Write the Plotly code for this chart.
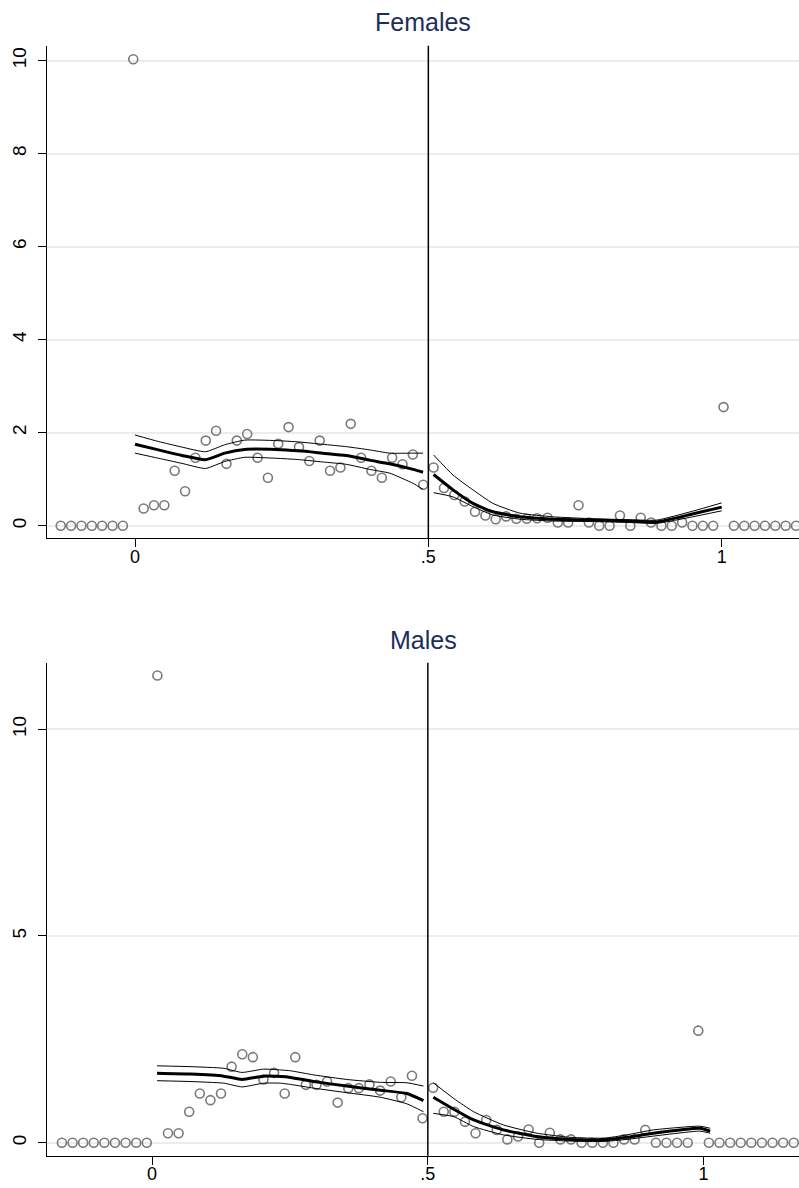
import plotly.graph_objects as go

# ---------------- Females: binned means ----------------
fem_x = [-0.1266, -0.1089, -0.0913, -0.0736, -0.0560, -0.0383, -0.0207,
         -0.0030, 0.0147, 0.0323, 0.0500, 0.0676, 0.0853, 0.1029, 0.1206,
         0.1382, 0.1559, 0.1735, 0.1912, 0.2089, 0.2265, 0.2442, 0.2618,
         0.2795, 0.2971, 0.3148, 0.3324, 0.3501, 0.3677, 0.3854, 0.4030,
         0.4207, 0.4383, 0.4560, 0.4736, 0.4913, 0.5089, 0.5266, 0.5442,
         0.5619, 0.5795, 0.5972, 0.6148, 0.6325, 0.6501, 0.6678, 0.6854,
         0.7031, 0.7207, 0.7384, 0.7560, 0.7737, 0.7913, 0.8090, 0.8266,
         0.8443, 0.8620, 0.8796, 0.8973, 0.9149, 0.9326, 0.9502, 0.9679,
         0.9855, 1.0032, 1.0208, 1.0385, 1.0561, 1.0738, 1.0914, 1.1091,
         1.1267]
fem_y = [0, 0, 0, 0, 0, 0, 0,
         10.03, 0.37, 0.44, 0.44, 1.18, 0.74, 1.46, 1.83,
         2.04, 1.33, 1.83, 1.97, 1.46, 1.03, 1.76, 2.12,
         1.69, 1.39, 1.83, 1.18, 1.25, 2.19, 1.46, 1.18,
         1.03, 1.46, 1.32, 1.53, 0.88, 1.25, 0.81, 0.66,
         0.52, 0.30, 0.22, 0.14, 0.20, 0.15, 0.15, 0.16,
         0.17, 0.07, 0.07, 0.44, 0.07, 0, 0, 0.22,
         0, 0.17, 0.07, 0, 0, 0.07, 0, 0,
         0, 2.55, 0, 0, 0, 0, 0, 0,
         0]

# Females: local fit with confidence band, left of cutoff
fem_lx = [0.0, 0.04, 0.08, 0.12, 0.153, 0.187, 0.24, 0.28, 0.32, 0.36, 0.40, 0.434, 0.474, 0.491]
fem_lfit = [1.75, 1.63, 1.51, 1.42, 1.56, 1.64, 1.64, 1.61, 1.56, 1.51, 1.41, 1.33, 1.21, 1.15]
fem_lhi = [1.95, 1.81, 1.69, 1.59, 1.74, 1.84, 1.83, 1.80, 1.75, 1.70, 1.63, 1.56, 1.56, 1.56]
fem_llo = [1.56, 1.45, 1.34, 1.23, 1.38, 1.47, 1.45, 1.42, 1.37, 1.32, 1.21, 1.13, 0.91, 0.78]

# Females: right of cutoff
fem_rx = [0.509, 0.542, 0.576, 0.61, 0.656, 0.713, 0.78, 0.84, 0.889, 0.95, 1.0]
fem_rfit = [1.10, 0.77, 0.48, 0.30, 0.19, 0.14, 0.12, 0.10, 0.08, 0.25, 0.40]
fem_rhi = [1.52, 1.09, 0.77, 0.48, 0.27, 0.19, 0.15, 0.13, 0.12, 0.31, 0.49]
fem_rlo = [0.71, 0.62, 0.41, 0.23, 0.14, 0.10, 0.09, 0.07, 0.05, 0.19, 0.32]

# ---------------- Males: binned means ----------------
mal_x = [-0.1635, -0.1442, -0.1250, -0.1058, -0.0865, -0.0673, -0.0481,
         -0.0288, -0.0096, 0.0096, 0.0288, 0.0481, 0.0673, 0.0865, 0.1058,
         0.1250, 0.1442, 0.1635, 0.1827, 0.2019, 0.2212, 0.2404, 0.2596,
         0.2788, 0.2981, 0.3173, 0.3365, 0.3558, 0.3750, 0.3942, 0.4135,
         0.4327, 0.4519, 0.4712, 0.4904, 0.5096, 0.5288, 0.5481, 0.5673,
         0.5865, 0.6058, 0.6250, 0.6442, 0.6635, 0.6827, 0.7019, 0.7212,
         0.7404, 0.7596, 0.7788, 0.7981, 0.8173, 0.8365, 0.8558, 0.8750,
         0.8942, 0.9135, 0.9327, 0.9519, 0.9712, 0.9904, 1.0096, 1.0288,
         1.0481, 1.0673, 1.0865, 1.1058, 1.1250, 1.1442, 1.1635]
mal_y = [0, 0, 0, 0, 0, 0, 0,
         0, 0, 11.30, 0.23, 0.23, 0.75, 1.19, 1.03,
         1.19, 1.84, 2.14, 2.07, 1.53, 1.69, 1.19, 2.07,
         1.40, 1.40, 1.48, 0.97, 1.32, 1.32, 1.41, 1.26,
         1.48, 1.10, 1.62, 0.59, 1.33, 0.75, 0.75, 0.51,
         0.23, 0.55, 0.31, 0.08, 0.15, 0.32, 0, 0.24,
         0.08, 0.08, 0, 0, 0, 0, 0.08, 0.08,
         0.31, 0, 0, 0, 0, 2.71, 0, 0,
         0, 0, 0, 0, 0, 0, 0]

# Males: local fit with confidence band, left of cutoff
mal_lx = [0.009, 0.069, 0.13, 0.163, 0.202, 0.233, 0.251, 0.293, 0.353, 0.414, 0.462, 0.492]
mal_lfit = [1.68, 1.66, 1.61, 1.53, 1.61, 1.60, 1.58, 1.48, 1.37, 1.27, 1.19, 1.02]
mal_lhi = [1.86, 1.84, 1.80, 1.70, 1.78, 1.76, 1.74, 1.64, 1.53, 1.46, 1.45, 1.37]
mal_llo = [1.50, 1.48, 1.44, 1.35, 1.44, 1.44, 1.41, 1.32, 1.21, 1.10, 0.94, 0.75]

# Males: right of cutoff
mal_rx = [0.51, 0.547, 0.583, 0.637, 0.698, 0.758, 0.819, 0.861, 0.909, 0.993, 1.012]
mal_rfit = [1.10, 0.81, 0.55, 0.31, 0.15, 0.08, 0.07, 0.13, 0.23, 0.35, 0.28]
mal_rhi = [1.45, 1.07, 0.75, 0.43, 0.23, 0.13, 0.11, 0.19, 0.31, 0.40, 0.35]
mal_rlo = [0.71, 0.63, 0.39, 0.19, 0.08, 0.04, 0.03, 0.08, 0.16, 0.28, 0.23]

cutoff = 0.5
x_tickvals = [0, 0.5, 1]
x_ticktext = ["0", ".5", "1"]
fem_yticks = [0, 2, 4, 6, 8, 10]
mal_yticks = [0, 5, 10]

W, H = 799, 1188
FONT = "Liberation Sans, Arial, Helvetica, sans-serif"
GRID = "#e6eef0"
MARKER_GRAY = "#7a7a7a"

fig = go.Figure()


def add_panel(xs, ys, segments, xa, ya):
    fig.add_trace(go.Scatter(
        x=xs, y=ys, mode="markers", xaxis=xa, yaxis=ya, showlegend=False,
        marker=dict(symbol="circle-open", size=9, color=MARKER_GRAY,
                    line=dict(width=1.6, color=MARKER_GRAY)),
    ))
    for sx, fit, hi, lo in segments:
        for vals, w in ((hi, 1.0), (lo, 1.0), (fit, 3.0)):
            fig.add_trace(go.Scatter(
                x=sx, y=vals, mode="lines", xaxis=xa, yaxis=ya, showlegend=False,
                line=dict(color="black", width=w, shape="spline", smoothing=0.5),
            ))


add_panel(fem_x, fem_y,
          [(fem_lx, fem_lfit, fem_lhi, fem_llo), (fem_rx, fem_rfit, fem_rhi, fem_rlo)],
          "x", "y")
add_panel(mal_x, mal_y,
          [(mal_lx, mal_lfit, mal_lhi, mal_llo), (mal_rx, mal_rfit, mal_rhi, mal_rlo)],
          "x2", "y2")

x_dom = [47.3 / W, 1.0]
top_dom = [(H - 538.3) / H, (H - 45.7) / H]
bot_dom = [(H - 1155.7) / H, (H - 662.7) / H]

common_x = dict(
    tickmode="array", tickvals=x_tickvals, ticktext=x_ticktext, automargin=False,
    showgrid=False, zeroline=False, showline=True, linecolor="black", linewidth=1.2,
    ticks="outside", ticklen=8, tickwidth=1.2, tickcolor="black", ticklabelstandoff=-6,
    tickfont=dict(family=FONT, size=18, color="black"),
)
common_y = dict(
    tickmode="array", showgrid=True, gridcolor=GRID, gridwidth=1.5, automargin=False,
    zeroline=False, showline=True, linecolor="black", linewidth=1.2,
    ticks="outside", ticklen=8, tickwidth=1.2, tickcolor="black", tickangle=-90,
    ticklabelstandoff=5,
    tickfont=dict(family=FONT, size=19, color="black"),
)

fig.update_layout(
    width=W, height=H,
    margin=dict(l=0, r=0, t=0, b=0, pad=0, autoexpand=False),
    paper_bgcolor="white", plot_bgcolor="white",
    xaxis=dict(domain=x_dom, range=[-0.1495, 1.1318], anchor="y", **common_x),
    yaxis=dict(domain=top_dom, range=[-0.271, 10.32], anchor="x",
               tickvals=fem_yticks, **common_y),
    xaxis2=dict(domain=x_dom, range=[-0.190, 1.173], anchor="y2", **common_x),
    yaxis2=dict(domain=bot_dom, range=[-0.314, 11.61], anchor="x2",
                tickvals=mal_yticks, **common_y),
    shapes=[
        dict(type="line", xref="x", yref="y domain", x0=cutoff, x1=cutoff, y0=0, y1=1,
             line=dict(color="black", width=1.5)),
        dict(type="line", xref="x2", yref="y2 domain", x0=cutoff, x1=cutoff, y0=0, y1=1,
             line=dict(color="black", width=1.5)),
    ],
    annotations=[
        dict(text="Females", xref="paper", yref="paper", x=(47.3 + 799) / 2 / W,
             y=(H - 22) / H, xanchor="center", yanchor="middle", showarrow=False,
             font=dict(family=FONT, size=25, color="#1c2d5c")),
        dict(text="Males", xref="paper", yref="paper", x=(47.3 + 799) / 2 / W,
             y=(H - 640) / H, xanchor="center", yanchor="middle", showarrow=False,
             font=dict(family=FONT, size=25, color="#1c2d5c")),
    ],
)

fig.write_html("out.html")
